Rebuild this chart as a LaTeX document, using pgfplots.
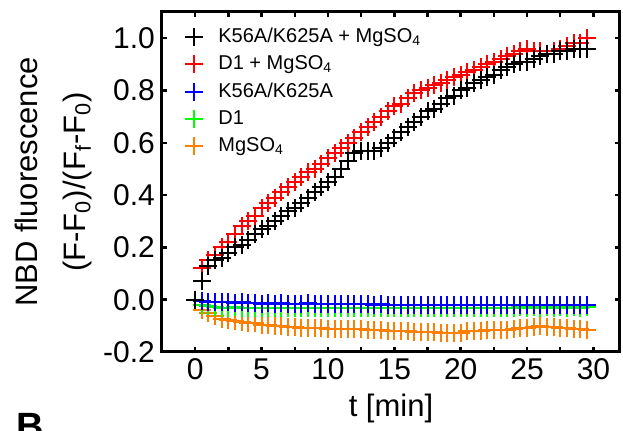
\documentclass[border=0pt]{standalone}
\usepackage{pgfplots}
\pgfplotsset{compat=1.18}
\usepackage{pgfplotstable}
\usepackage{fontspec}
\setmainfont{Liberation Sans}
\definecolor{myorange}{RGB}{255,128,0}
\definecolor{mygreen}{RGB}{0,255,0}

% t, K56A/K625A+MgSO4, D1+MgSO4, K56A/K625A, D1, MgSO4
\pgfplotstableread{
t k d m kk dd
0 0 0 0 0 0
0.5 0.07 0.12 -0.005 -0.02 -0.04
1 0.13 0.15 -0.01 -0.025 -0.05
1.5 0.15 0.17 -0.01 -0.028 -0.062
2 0.16 0.20 -0.008 -0.03 -0.072
2.5 0.18 0.22 -0.01 -0.03 -0.078
3 0.20 0.25 -0.012 -0.028 -0.082
3.5 0.21 0.28 -0.01 -0.03 -0.085
4 0.23 0.30 -0.013 -0.03 -0.088
4.5 0.25 0.32 -0.012 -0.032 -0.09
5 0.27 0.35 -0.015 -0.03 -0.095
5.5 0.28 0.37 -0.013 -0.03 -0.098
6 0.30 0.39 -0.015 -0.032 -0.10
6.5 0.32 0.41 -0.014 -0.03 -0.102
7 0.34 0.43 -0.015 -0.032 -0.104
7.5 0.35 0.45 -0.016 -0.03 -0.106
8 0.37 0.47 -0.015 -0.032 -0.107
8.5 0.39 0.49 -0.014 -0.03 -0.108
9 0.41 0.50 -0.016 -0.032 -0.11
9.5 0.43 0.52 -0.018 -0.03 -0.11
10 0.45 0.54 -0.017 -0.032 -0.112
10.5 0.47 0.56 -0.016 -0.03 -0.112
11 0.50 0.58 -0.018 -0.032 -0.113
11.5 0.53 0.60 -0.017 -0.03 -0.113
12 0.56 0.62 -0.018 -0.032 -0.114
12.5 0.57 0.64 -0.016 -0.03 -0.114
13 0.57 0.66 -0.018 -0.032 -0.116
13.5 0.57 0.68 -0.02 -0.03 -0.115
14 0.58 0.70 -0.018 -0.032 -0.115
14.5 0.60 0.72 -0.02 -0.03 -0.118
15 0.62 0.74 -0.019 -0.032 -0.12
15.5 0.64 0.75 -0.02 -0.03 -0.12
16 0.66 0.77 -0.019 -0.032 -0.121
16.5 0.68 0.79 -0.02 -0.03 -0.122
17 0.70 0.80 -0.021 -0.032 -0.122
17.5 0.72 0.81 -0.02 -0.03 -0.123
18 0.73 0.82 -0.021 -0.032 -0.124
18.5 0.75 0.83 -0.02 -0.03 -0.126
19 0.77 0.84 -0.022 -0.032 -0.128
19.5 0.78 0.85 -0.02 -0.03 -0.128
20 0.80 0.86 -0.021 -0.032 -0.126
20.5 0.81 0.87 -0.02 -0.03 -0.12
21 0.83 0.88 -0.021 -0.03 -0.118
21.5 0.84 0.89 -0.02 -0.032 -0.118
22 0.85 0.90 -0.021 -0.03 -0.117
22.5 0.86 0.91 -0.02 -0.03 -0.117
23 0.88 0.92 -0.021 -0.03 -0.116
23.5 0.89 0.93 -0.02 -0.03 -0.115
24 0.90 0.94 -0.022 -0.03 -0.113
24.5 0.91 0.95 -0.02 -0.028 -0.11
25 0.91 0.96 -0.021 -0.03 -0.108
25.5 0.92 0.95 -0.02 -0.028 -0.104
26 0.93 0.95 -0.02 -0.03 -0.102
26.5 0.94 0.94 -0.021 -0.028 -0.104
27 0.94 0.95 -0.02 -0.03 -0.106
27.5 0.95 0.96 -0.02 -0.028 -0.108
28 0.95 0.97 -0.021 -0.03 -0.11
28.5 0.96 0.98 -0.02 -0.028 -0.112
29 0.96 0.98 -0.02 -0.03 -0.114
29.5 0.96 1.00 -0.02 -0.028 -0.115
}\kinetics

\begin{document}
\begin{tikzpicture}
\begin{axis}[
    at={(0,0)}, anchor=south west,
    scale only axis,
    width=229pt, height=170pt,
    xmin=-2.5, xmax=32,
    ymin=-0.2, ymax=1.1,
    xtick={0,5,...,30},
    ytick={-0.2,0,0.2,...,1.0},
    minor x tick num=1,
    minor y tick num=1,
    tick pos=both,
    tick align=inside,
    major tick length=2.5pt,
    minor tick length=2.5pt,
    tick style={line width=1.2pt, black},
    axis line style={line width=1.5pt},
    /pgf/number format/assume math mode=true,
    yticklabel style={/pgf/number format/.cd, fixed, fixed zerofill, precision=1},
    ticklabel style={font=\fontsize{15}{17}\selectfont},
    xlabel style={font=\fontsize{15.5}{18}\selectfont},
    ylabel style={font=\fontsize{15.5}{24}\selectfont, align=center, yshift=-1pt},
    xlabel={t [min]},
    ylabel={NBD fluorescence\\(F-F\textsubscript{0})/(F\textsubscript{f}-F\textsubscript{0})},
    reverse legend,
    legend cell align=left,
    legend style={draw=none, fill=none, at={(0,1)}, anchor=north west,
        font=\fontsize{10}{12}\selectfont, row sep=1pt,
        xshift=8.5pt, yshift=-4pt,
        /tikz/every odd column/.append style={column sep=5.5pt}},
    every axis plot/.append style={only marks, mark=+, mark size=4.5pt,
        line width=1pt},
]
\addplot[myorange] table[x=t, y=dd] {\kinetics};
\addlegendentry{MgSO\textsubscript{4}}
\addplot[mygreen] table[x=t, y=kk] {\kinetics};
\addlegendentry{D1}
\addplot[blue] table[x=t, y=m] {\kinetics};
\addlegendentry{K56A/K625A}
\addplot[red] table[x=t, y=d] {\kinetics};
\addlegendentry{D1 + MgSO\textsubscript{4}}
\addplot[black] table[x=t, y=k] {\kinetics};
\addlegendentry{K56A/K625A + MgSO\textsubscript{4}}
\end{axis}
\node[anchor=north west, inner sep=0pt, font=\fontsize{19}{22}\selectfont\bfseries] at (-73pt,-30.5pt) {B};
\pgfresetboundingbox
\useasboundingbox (-81pt,-39.5pt) rectangle (230.5pt,176pt);
\end{tikzpicture}
\end{document}
